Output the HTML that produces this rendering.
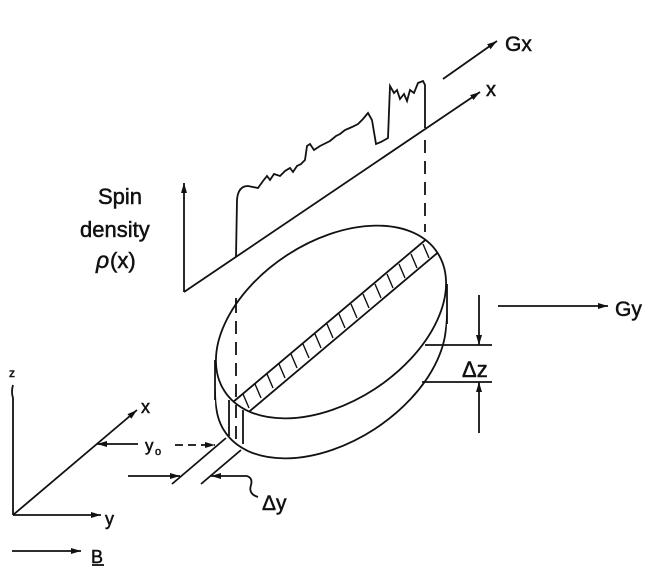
<!DOCTYPE html>
<html><head><style>
html,body{margin:0;padding:0;background:#fff;}
svg{display:block;}
text{font-family:"Liberation Sans",sans-serif;fill:#111;}
</style></head><body>
<svg width="657" height="575" viewBox="0 0 657 575" xmlns="http://www.w3.org/2000/svg">
<defs>
<marker id="ah" viewBox="0 0 10 6" refX="10" refY="3" markerWidth="10" markerHeight="6" orient="auto" markerUnits="userSpaceOnUse"><path d="M0,0 L10,3 L0,6 Z" fill="#111"/></marker>
<clipPath id="ec"><ellipse cx="331" cy="322" rx="127" ry="80" transform="rotate(-33 331 322)"/></clipPath>
</defs>
<g stroke="#111" stroke-width="1.8" fill="none">
<line x1="184" y1="292" x2="184" y2="183" marker-end="url(#ah)"/>
<line x1="184" y1="292" x2="480" y2="92" marker-end="url(#ah)"/>
<line x1="443" y1="79" x2="497" y2="41" marker-end="url(#ah)"/>
<path d="M236,257 L237,200 Q238,186 248,186 L258,188 L263,181 L267,176 L270,180 L274,174 L280,176 L285,171 L290,168 L293,172 L297,166 L301,164 L305,160 L307,146 L310,144 L314,150 L320,146 L330,141 L336,136 L340,134 L345,130 L352,127 L358,124 L363,119 L368,113 L372,120 L374,132 L376,144 L381,142 L388,138 L390,86 L394,93 L397,90 L400,99 L404,94 L407,101 L410,90 L414,93 L418,83 L423,81 L425,85 L425,128"/>
<line x1="236" y1="298" x2="236" y2="440" stroke-dasharray="13,8"/>
<line x1="425" y1="140" x2="425" y2="232" stroke-dasharray="13,8"/>
<ellipse cx="331" cy="362" rx="127" ry="80" transform="rotate(-33 331 362)"/>
</g>
<g fill="#fff" stroke="none">
<ellipse cx="331" cy="322" rx="127" ry="80" transform="rotate(-33 331 322)"/>
<ellipse cx="331" cy="327" rx="127" ry="80" transform="rotate(-33 331 327)"/>
<ellipse cx="331" cy="332" rx="127" ry="80" transform="rotate(-33 331 332)"/>
<ellipse cx="331" cy="337" rx="127" ry="80" transform="rotate(-33 331 337)"/>
<ellipse cx="331" cy="342" rx="127" ry="80" transform="rotate(-33 331 342)"/>
<ellipse cx="331" cy="347" rx="127" ry="80" transform="rotate(-33 331 347)"/>
<ellipse cx="331" cy="352" rx="127" ry="80" transform="rotate(-33 331 352)"/>
<ellipse cx="331" cy="357" rx="127" ry="79" transform="rotate(-33 331 357)"/>
<ellipse cx="331" cy="360" rx="126" ry="78" transform="rotate(-33 331 360)"/>
</g>
<g stroke="#111" stroke-width="1.8" fill="none">
<ellipse cx="331" cy="322" rx="127" ry="80" transform="rotate(-33 331 322)"/>
<line x1="215" y1="360" x2="215" y2="400"/>
<line x1="447" y1="284" x2="447" y2="324"/>
<g clip-path="url(#ec)">
<line x1="226" y1="408" x2="436" y2="231"/>
<line x1="238" y1="421" x2="448" y2="244"/>
<g stroke-width="1.4">
<line x1="243" y1="394" x2="249" y2="408"/>
<line x1="255" y1="384" x2="261" y2="398"/>
<line x1="267" y1="374" x2="273" y2="388"/>
<line x1="279" y1="364" x2="285" y2="378"/>
<line x1="291" y1="354" x2="297" y2="368"/>
<line x1="303" y1="344" x2="309" y2="358"/>
<line x1="315" y1="334" x2="321" y2="348"/>
<line x1="327" y1="324" x2="333" y2="338"/>
<line x1="339" y1="314" x2="345" y2="328"/>
<line x1="351" y1="304" x2="357" y2="318"/>
<line x1="363" y1="294" x2="369" y2="308"/>
<line x1="375" y1="284" x2="381" y2="298"/>
<line x1="387" y1="274" x2="393" y2="288"/>
<line x1="399" y1="264" x2="405" y2="278"/>
<line x1="411" y1="254" x2="417" y2="268"/>
<line x1="423" y1="244" x2="429" y2="258"/>
</g>
</g>
<line x1="229" y1="400" x2="229" y2="436"/>
<line x1="243" y1="410" x2="243" y2="444"/>
<line x1="236" y1="300" x2="236" y2="440" stroke-dasharray="13,8"/>
<line x1="498" y1="306" x2="608" y2="306" marker-end="url(#ah)"/>
<line x1="425" y1="345" x2="492" y2="345"/>
<line x1="422" y1="382" x2="492" y2="382"/>
<line x1="479" y1="295" x2="479" y2="345" marker-end="url(#ah)"/>
<line x1="479" y1="433" x2="479" y2="382" marker-end="url(#ah)"/>
<path d="M13,385 Q11,392 13,398 L13,515"/>
<line x1="13" y1="515" x2="137" y2="410" marker-end="url(#ah)"/>
<line x1="13" y1="515" x2="101" y2="515" marker-end="url(#ah)"/>
<line x1="12" y1="551" x2="81" y2="551" marker-end="url(#ah)"/>
<line x1="92" y1="565" x2="104" y2="565"/>
<line x1="138" y1="444" x2="97" y2="444" marker-end="url(#ah)"/>
<line x1="175" y1="445" x2="215" y2="445" stroke-dasharray="8,5" marker-end="url(#ah)"/>
<line x1="226" y1="438" x2="172" y2="484"/>
<line x1="241" y1="450" x2="201" y2="484"/>
<line x1="128" y1="476" x2="180" y2="476" marker-end="url(#ah)"/>
<path d="M247,476 L211,476" marker-end="url(#ah)"/>
<path d="M247,476 Q253,478 251,485 Q248,494 258,497"/>
</g>
<g stroke="#111" stroke-width="0.5">
<text x="98" y="204" font-size="22">Spin</text>
<text x="80" y="237" font-size="22">density</text>
<text x="96" y="268" font-size="23" font-family="Liberation Serif" font-style="italic">ρ</text>
<text x="110" y="268" font-size="22">(x)</text>
<text x="505" y="51" font-size="21">Gx</text>
<text x="486" y="96" font-size="20">x</text>
<text x="615" y="316" font-size="21">Gy</text>
<text x="462" y="377" font-size="22">Δz</text>
<text x="9" y="377" font-size="12">z</text>
<text x="141" y="413" font-size="18">x</text>
<text x="105" y="525" font-size="18">y</text>
<text x="91" y="563" font-size="18">B</text>
<text x="145" y="451" font-size="17">y</text>
<text x="155" y="455" font-size="11">o</text>
<text x="262" y="510" font-size="21">Δy</text>
</g>
</svg>
</body></html>
